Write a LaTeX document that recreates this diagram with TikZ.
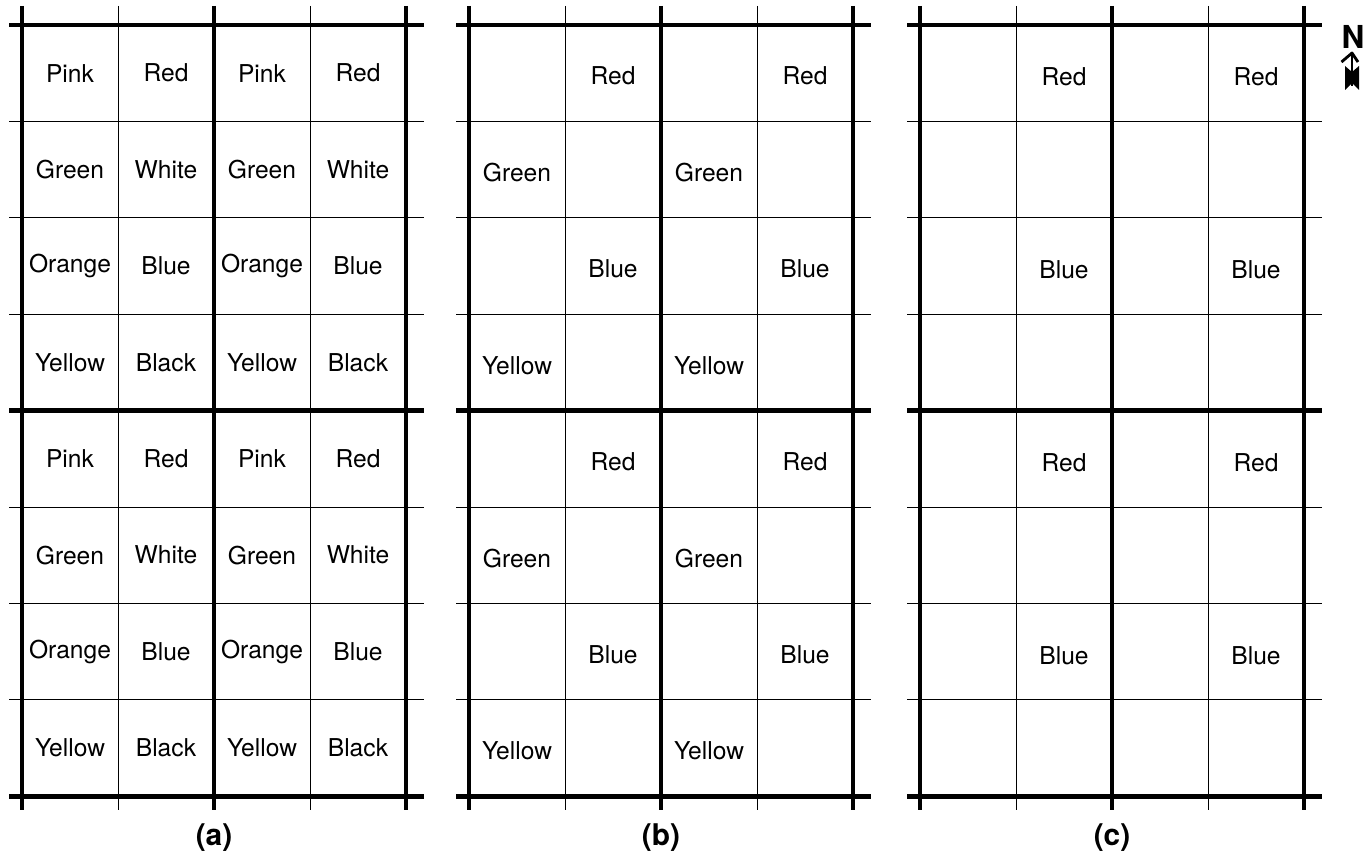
\documentclass[tikz,border=0pt]{standalone}
\usepackage{fontspec}
\setmainfont{TeX Gyre Heros}
\begin{document}
\begin{tikzpicture}[x=0.02cm, y=-0.02cm, line join=round, font=\fontsize{14}{16}\selectfont]
	\tikzset{heavy/.style={line width=2.8pt}, light/.style={line width=0.4pt},
		cellname/.style={inner sep=0pt}, caption/.style={font=\fontsize{17}{20}\selectfont\bfseries}}
	\useasboundingbox (0,0) rectangle (1363,858);
	\def \ytop{25}
	\def \w{96}
	\def \h{96.4}
	% grids of the three plans
	\foreach \p/\xo in {a/22, b/469, c/920} {
		\foreach \k in {1,3}
		\draw[light] (\xo+\k*\w,6)--(\xo+\k*\w,810);
		\foreach \k in {1,2,3,5,6,7}
		\draw[light] (\xo-13,\ytop+\k*\h)--(\xo+4*\w+18,\ytop+\k*\h);
		\foreach \k in {0,2,4}
		\draw[heavy] (\xo+\k*\w,6)--(\xo+\k*\w,810);
		\foreach \k in {0,4,8}
		\draw[heavy] (\xo-13,\ytop+\k*\h)--(\xo+4*\w+18,\ytop+\k*\h);
		\node[caption] (cap-\p) at (\xo+2*\w,838) {(\p)};
	}
	% (a) all colours
	\foreach \blk in {0,1}
	\foreach \hf in {0,1}
	\foreach \r/\west/\east in {1/Pink/Red, 2/Green/White, 3/Orange/Blue, 4/Yellow/Black} {
		\node[cellname] (a-\blk\hf\r w) at (22+2*\hf*\w+0.5*\w,\ytop+4*\blk*\h+\r*\h-0.5*\h) {\west};
		\node[cellname] (a-\blk\hf\r e) at (22+2*\hf*\w+1.5*\w,\ytop+4*\blk*\h+\r*\h-0.5*\h) {\east};
	}
	% (b) half of them
	\foreach \blk in {0,1}
	\foreach \hf in {0,1}
	\foreach \r/\c/\txt in {1/2/Red, 2/1/Green, 3/2/Blue, 4/1/Yellow}
	\node[cellname] (b-\blk\hf\r) at (469+2*\hf*\w+\c*\w-0.5*\w,\ytop+4*\blk*\h+\r*\h-0.5*\h+3) {\txt};
	% (c) red and blue only
	\foreach \blk in {0,1}
	\foreach \hf in {0,1}
	\foreach \r/\c/\txt in {1/2/Red, 3/2/Blue}
	\node[cellname] (c-\blk\hf\r) at (920+2*\hf*\w+\c*\w-0.5*\w,\ytop+4*\blk*\h+\r*\h-0.5*\h+4) {\txt};
	% north arrow
	\node[caption, font=\fontsize{18}{20}\selectfont\bfseries] (north) at (1353,37) {N};
	\coordinate (tip) at (1352,53);
	\coordinate (tail) at (1352,86);
	\draw[line width=1.6pt] (tail)--(tip);
	\draw[line width=1.6pt] ([xshift=-6]tip) ++(0,9) -- (tip) -- ++(6,9);
	\fill (1352,72)--(1359,66)--(1359,90)--(1352,83)--(1345,90)--(1345,66)--cycle;
\end{tikzpicture}
\end{document}
